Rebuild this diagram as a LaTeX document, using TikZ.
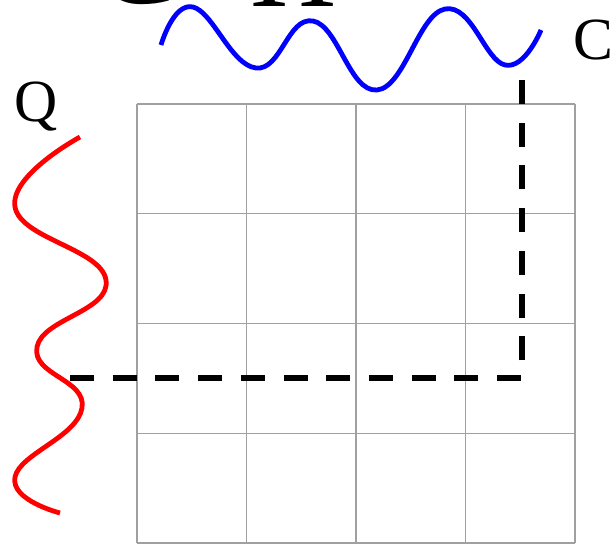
\documentclass[tikz,border=0pt]{standalone}
\usepackage{fontspec}
\setmainfont{Liberation Serif}
\usepackage{tikz}
\definecolor{waveRed}{RGB}{255,0,0}
\definecolor{waveBlue}{RGB}{0,0,255}
\definecolor{gridGray}{RGB}{160,160,160}

\begin{document}
\begin{tikzpicture}[x=1bp,y=-1bp,
    wave/.style={line width=4.8bp,line join=round},
    cellline/.style={gridGray,line width=1.2bp},
    probe/.style={black,line width=5.5bp,dash pattern=on 24bp off 18.7bp},
    bigtxt/.style={font=\fontsize{60}{60}\selectfont,inner sep=0pt,anchor=base}]
  \clip (0,0) rectangle (614,545);
  % ---- 4x4 grid
  \foreach \k in {0,...,4} {
    \draw[cellline] ({137+109.5*\k},104) -- ({137+109.5*\k},543);
    \draw[cellline] (137,{104+109.75*\k}) -- (575,{104+109.75*\k});
  }
  % ---- dashed path Q -> C
  \coordinate (qpt) at (70,378);
  \coordinate (cpt) at (522,62);
  \draw[probe] (qpt) -| (cpt);
  % ---- red wave (Q)
  \draw[wave,waveRed] plot[smooth,tension=0.8] coordinates {
    (80,137) (15,207) (106,280) (37,347) (82,408) (15,477) (60,513)};
  % ---- blue wave (C)
  \draw[wave,waveBlue] plot[smooth,tension=0.75] coordinates {
    (161,45) (193,7) (256,68) (313,21) (377,90) (445,9) (505,65) (541,30)};
  % ---- labels
  \node[bigtxt] (labQ) at (36,122) {Q};
  \node[bigtxt,anchor=base west] (labC) at (573,60) {C};
  \node[bigtxt,font=\fontsize{120}{120}\selectfont] (topC) at (136,4) {C};
  \node[bigtxt,font=\fontsize{120}{120}\selectfont] (topH) at (294,7) {H};
\end{tikzpicture}
\end{document}
